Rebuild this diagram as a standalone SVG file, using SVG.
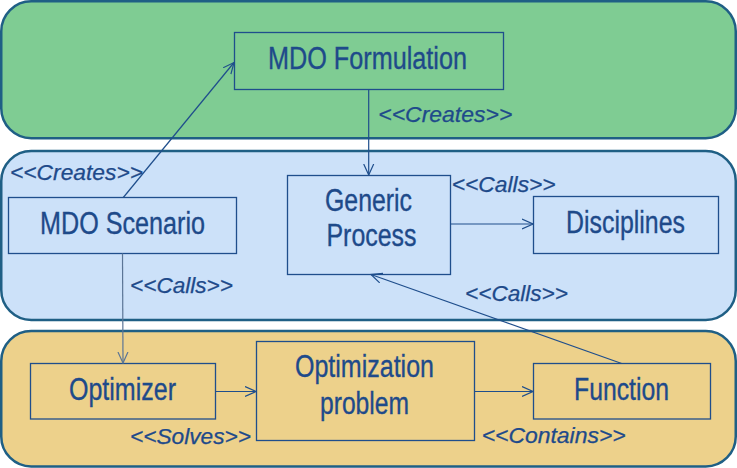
<svg xmlns="http://www.w3.org/2000/svg" width="737" height="468" viewBox="0 0 737 468">
  <defs>
    <marker id="open" markerWidth="12" markerHeight="12" refX="11" refY="5" orient="auto" markerUnits="userSpaceOnUse" viewBox="0 0 12 10">
      <path d="M0,0 L11,5 L0,10" fill="none" stroke="#1F4E8C" stroke-width="1.2"/>
    </marker>
    <marker id="openGray" markerWidth="12" markerHeight="12" refX="11" refY="5" orient="auto" markerUnits="userSpaceOnUse" viewBox="0 0 12 10">
      <path d="M0,0 L11,5 L0,10" fill="none" stroke="#5B7596" stroke-width="1.2"/>
    </marker>
  </defs>
  <style>
    .panel { stroke: #1F5F85; stroke-width: 2.5; }
    .box { fill: none; stroke: #1F4E8C; stroke-width: 1.3; }
    .t { font-family: "Liberation Sans", Arial, sans-serif; font-size: 31px; fill: #1E4A8A; stroke: #1E4A8A; stroke-width: 0.35; }
    .lbl { font-family: "Liberation Sans", Arial, sans-serif; font-size: 22px; font-style: italic; fill: #1E4A8A; stroke: #1E4A8A; stroke-width: 0.25; }
    .conn { fill: none; stroke: #1F4E8C; stroke-width: 1.2; marker-end: url(#open); }
  </style>

  <g id="panels">
    <rect id="panel-green" class="panel" x="1.25" y="1.25" width="734.5" height="137" rx="30" fill="#7FCC93"/>
    <rect id="panel-blue" class="panel" x="1.25" y="151" width="734.5" height="169" rx="30" fill="#CCE1F9"/>
    <rect id="panel-orange" class="panel" x="1.25" y="331" width="734.5" height="135.5" rx="30" fill="#EDD18B"/>
  </g>

  <g id="mdo-formulation">
    <rect class="box" x="234.5" y="32.5" width="269" height="57"/>
    <text class="t" x="268" y="69" textLength="199" lengthAdjust="spacingAndGlyphs">MDO Formulation</text>
  </g>

  <g id="mdo-scenario">
    <rect class="box" x="8.5" y="197.5" width="228" height="56"/>
    <text class="t" x="40" y="234" textLength="165" lengthAdjust="spacingAndGlyphs">MDO Scenario</text>
  </g>

  <g id="generic-process">
    <rect class="box" x="287.5" y="175.5" width="163" height="99"/>
    <text class="t" x="325" y="211" textLength="87" lengthAdjust="spacingAndGlyphs">Generic</text>
    <text class="t" x="326.5" y="246" textLength="90" lengthAdjust="spacingAndGlyphs">Process</text>
  </g>

  <g id="disciplines">
    <rect class="box" x="533.5" y="196.5" width="185" height="57"/>
    <text class="t" x="566" y="233" textLength="119" lengthAdjust="spacingAndGlyphs">Disciplines</text>
  </g>

  <g id="optimizer">
    <rect class="box" x="30.5" y="363.5" width="185" height="55.5"/>
    <text class="t" x="69" y="399.5" textLength="107" lengthAdjust="spacingAndGlyphs">Optimizer</text>
  </g>

  <g id="optimization-problem">
    <rect class="box" x="256.5" y="341.5" width="218" height="99"/>
    <text class="t" x="295" y="377" textLength="139" lengthAdjust="spacingAndGlyphs">Optimization</text>
    <text class="t" x="320" y="414" textLength="89" lengthAdjust="spacingAndGlyphs">problem</text>
  </g>

  <g id="function">
    <rect class="box" x="533.5" y="363.5" width="177" height="55.5"/>
    <text class="t" x="574" y="399.5" textLength="95" lengthAdjust="spacingAndGlyphs">Function</text>
  </g>

  <g id="connectors">
    <line class="conn" x1="123.3" y1="197.5" x2="234" y2="62.5"/>
    <line class="conn" x1="368.7" y1="89.5" x2="368.7" y2="175"/>
    <line class="conn" x1="450.5" y1="224" x2="533" y2="224"/>
    <line class="conn" x1="122.5" y1="253.5" x2="123" y2="363" style="stroke:#5B7596; marker-end:url(#openGray)"/>
    <line class="conn" x1="215.5" y1="391.5" x2="256" y2="391.5"/>
    <line class="conn" x1="474.5" y1="391.5" x2="533" y2="391.5"/>
    <line class="conn" x1="621.7" y1="363.5" x2="371" y2="274.5"/>
    <text class="lbl" x="10" y="180" textLength="133" lengthAdjust="spacingAndGlyphs">&lt;&lt;Creates&gt;&gt;</text>
    <text class="lbl" x="378.3" y="121.7" textLength="134" lengthAdjust="spacingAndGlyphs">&lt;&lt;Creates&gt;&gt;</text>
    <text class="lbl" x="451.7" y="191.7" textLength="104" lengthAdjust="spacingAndGlyphs">&lt;&lt;Calls&gt;&gt;</text>
    <text class="lbl" x="130" y="292.7" textLength="103" lengthAdjust="spacingAndGlyphs">&lt;&lt;Calls&gt;&gt;</text>
    <text class="lbl" x="465" y="301" textLength="103" lengthAdjust="spacingAndGlyphs">&lt;&lt;Calls&gt;&gt;</text>
    <text class="lbl" x="130" y="444" textLength="121" lengthAdjust="spacingAndGlyphs">&lt;&lt;Solves&gt;&gt;</text>
    <text class="lbl" x="481.7" y="442.7" textLength="144" lengthAdjust="spacingAndGlyphs">&lt;&lt;Contains&gt;&gt;</text>
  </g>
</svg>
